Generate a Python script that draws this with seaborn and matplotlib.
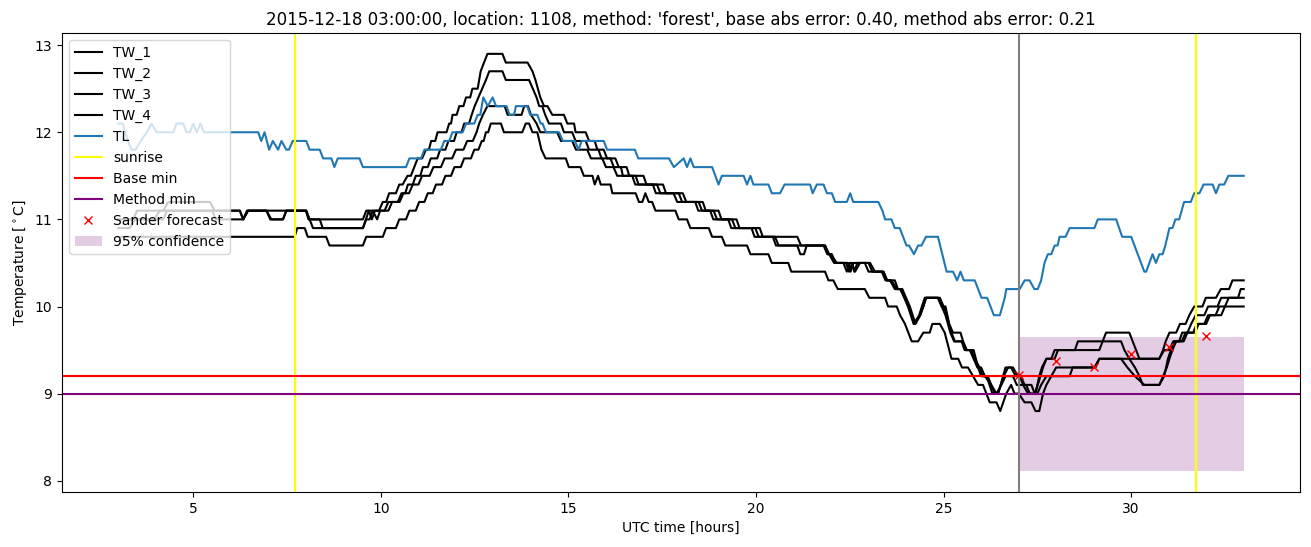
import matplotlib
matplotlib.use("Agg")
import matplotlib.pyplot as plt
import seaborn as sns
import pandas as pd

# ---------------- data (time [h], temperature [C]) vertices ----------------
TW_1 = [(3.00,10.9),(3.30,10.9),(3.45,11.0),(3.95,11.0),(4.11,11.1),(4.20,11.1),(4.33,11.2),(5.44,11.2),(5.57,11.1),(6.24,11.1),(6.33,11.0),(6.46,11.1),(8.01,11.1),(8.09,11.0),(9.52,11.0),(9.61,11.1),(9.95,11.1),(10.05,11.2),(10.14,11.2),(10.22,11.3),(10.40,11.3),(10.49,11.4),(10.58,11.4),(10.71,11.5),(10.80,11.5),(10.89,11.6),(10.98,11.7),(11.10,11.7),(11.20,11.8),(11.28,11.8),(11.34,11.9),(11.45,11.9),(11.51,12.0),(11.75,12.0),(11.82,12.1),(11.87,12.1),(11.91,12.2),(12.02,12.2),(12.09,12.3),(12.20,12.3),(12.27,12.4),(12.38,12.4),(12.44,12.5),(12.58,12.5),(12.66,12.7),(12.75,12.8),(12.84,12.9),(13.24,12.9),(13.33,12.8),(13.91,12.8),(14.04,12.7),(14.12,12.6),(14.25,12.4),(14.35,12.3),(14.44,12.3),(14.57,12.2),(14.88,12.2),(14.97,12.1),(15.15,12.1),(15.19,12.0),(15.46,12.0),(15.55,11.9),(15.70,11.9),(15.77,11.8),(15.94,11.8),(16.03,11.7),(16.25,11.7),(16.34,11.6),(16.40,11.6),(16.45,11.5),(16.79,11.5),(16.87,11.4),(17.36,11.4),(17.45,11.3),(17.94,11.3),(18.03,11.2),(18.47,11.2),(18.56,11.1),(18.87,11.1),(18.96,11.0),(19.36,11.0),(19.45,10.9),(19.98,10.9),(20.07,10.8),(20.51,10.8),(20.60,10.7),(21.84,10.7),(21.93,10.6),(22.02,10.6),(22.11,10.5),(22.33,10.5),(22.42,10.4),(22.50,10.5),(22.55,10.5),(22.64,10.4),(22.77,10.5),(23.04,10.5),(23.17,10.4),(23.39,10.4),(23.48,10.3),(23.61,10.3),(23.75,10.2),(23.84,10.2),(23.97,10.1),(24.06,10.0),(24.23,9.8),(24.37,9.9),(24.46,10.0),(24.54,10.1),(24.90,10.1),(25.00,10.0),(25.08,9.9),(25.21,9.7),(25.30,9.6),(25.48,9.6),(25.56,9.5),(25.74,9.5),(25.83,9.4),(25.96,9.3),(26.05,9.2),(26.18,9.2),(26.27,9.1),(26.36,9.0),(26.45,9.0),(26.60,9.2),(26.72,9.3),(26.85,9.3),(26.98,9.2),(27.06,9.2),(27.16,9.1),(27.34,9.1),(27.43,9.0),(27.51,9.1),(27.65,9.3),(27.74,9.4),(27.87,9.4),(27.96,9.5),(28.50,9.5),(28.58,9.6),(29.24,9.6),(29.33,9.7),(29.95,9.7),(30.04,9.6),(30.13,9.5),(30.22,9.4),(30.75,9.4),(30.85,9.5),(30.92,9.6),(31.02,9.7),(31.20,9.7),(31.30,9.8),(31.45,9.8),(31.55,9.9),(31.68,10.0),(31.90,10.0),(31.99,10.1),(32.26,10.1),(32.39,10.2),(32.61,10.2),(32.70,10.3),(33.00,10.3)]

TW_2 = [(3.00,11.0),(4.20,11.0),(4.30,11.1),(5.50,11.1),(5.60,11.0),(6.33,11.0),(6.43,11.1),(6.95,11.1),(7.05,11.0),(7.39,11.0),(7.48,11.1),(8.00,11.1),(8.07,11.0),(8.37,11.0),(8.45,10.9),(9.52,10.9),(9.60,11.0),(9.68,11.1),(9.76,11.0),(9.84,11.1),(10.10,11.1),(10.20,11.2),(10.45,11.2),(10.55,11.3),(10.65,11.3),(10.72,11.4),(10.85,11.4),(10.93,11.5),(11.05,11.5),(11.12,11.6),(11.25,11.6),(11.33,11.7),(11.50,11.7),(11.58,11.8),(11.72,11.8),(11.80,11.9),(11.95,11.9),(12.02,12.0),(12.15,12.0),(12.22,12.1),(12.35,12.1),(12.42,12.2),(12.50,12.3),(12.60,12.4),(12.70,12.5),(12.80,12.6),(12.89,12.7),(13.24,12.7),(13.33,12.6),(13.95,12.6),(14.05,12.5),(14.15,12.4),(14.22,12.3),(14.30,12.3),(14.38,12.2),(14.48,12.1),(14.80,12.1),(14.88,12.0),(15.10,12.0),(15.19,11.9),(15.46,11.9),(15.55,11.8),(15.80,11.8),(15.88,11.7),(16.12,11.7),(16.21,11.6),(16.55,11.6),(16.62,11.5),(17.00,11.5),(17.08,11.4),(17.52,11.4),(17.60,11.3),(18.05,11.3),(18.14,11.2),(18.58,11.2),(18.66,11.1),(19.00,11.1),(19.08,11.0),(19.48,11.0),(19.56,10.9),(20.10,10.9),(20.18,10.8),(21.10,10.8),(21.20,10.7),(21.84,10.7),(21.95,10.6),(22.08,10.5),(22.40,10.5),(22.48,10.4),(22.56,10.5),(22.62,10.4),(22.70,10.5),(23.00,10.5),(23.10,10.4),(23.40,10.4),(23.50,10.3),(23.70,10.3),(23.78,10.2),(23.90,10.2),(24.00,10.1),(24.10,10.0),(24.25,9.8),(24.38,9.9),(24.46,10.0),(24.52,10.1),(24.85,10.1),(24.95,10.0),(25.05,10.0),(25.15,9.8),(25.25,9.7),(25.45,9.7),(25.52,9.6),(25.62,9.5),(25.80,9.5),(25.92,9.3),(26.00,9.2),(26.15,9.2),(26.30,9.0),(26.45,9.0),(26.52,9.1),(26.65,9.3),(26.80,9.3),(26.92,9.2),(27.03,9.2),(27.12,9.1),(27.25,9.0),(27.45,9.0),(27.55,9.2),(27.62,9.3),(27.74,9.4),(27.96,9.4),(28.05,9.5),(29.15,9.5),(29.24,9.6),(29.73,9.6),(29.82,9.5),(29.95,9.4),(30.10,9.3),(30.22,9.2),(30.31,9.1),(30.75,9.1),(30.88,9.2),(30.98,9.4),(31.06,9.5),(31.15,9.6),(31.28,9.6),(31.36,9.7),(31.50,9.7),(31.60,9.8),(31.72,9.9),(31.95,9.9),(32.05,10.0),(32.30,10.0),(32.40,10.1),(32.85,10.1),(32.92,10.2),(33.00,10.2)]

TW_3 = [(3.00,11.0),(3.40,11.0),(3.50,11.1),(6.24,11.1),(6.33,11.0),(6.46,11.1),(6.95,11.1),(7.08,11.0),(7.39,11.0),(7.48,11.1),(8.01,11.1),(8.19,10.9),(9.52,10.9),(9.61,11.0),(9.70,11.0),(9.78,11.1),(9.90,11.0),(9.98,11.1),(10.20,11.1),(10.30,11.2),(10.50,11.2),(10.60,11.3),(10.75,11.3),(10.85,11.4),(11.00,11.4),(11.10,11.5),(11.30,11.5),(11.40,11.6),(11.60,11.6),(11.70,11.7),(11.90,11.7),(12.00,11.8),(12.20,11.8),(12.30,11.9),(12.45,11.9),(12.55,12.0),(12.62,12.1),(12.72,12.2),(12.84,12.3),(13.30,12.3),(13.38,12.2),(13.75,12.2),(13.82,12.3),(13.92,12.3),(14.00,12.2),(14.15,12.1),(14.25,12.0),(14.70,12.0),(14.80,11.9),(15.10,11.9),(15.20,11.8),(15.50,11.8),(15.60,11.7),(15.90,11.7),(16.00,11.6),(16.20,11.6),(16.30,11.5),(16.70,11.5),(16.78,11.4),(17.25,11.4),(17.33,11.3),(17.80,11.3),(17.90,11.2),(18.38,11.2),(18.46,11.1),(18.78,11.1),(18.86,11.0),(19.26,11.0),(19.34,10.9),(19.88,10.9),(19.96,10.8),(20.45,10.8),(20.53,10.7),(21.10,10.7),(21.18,10.6),(21.28,10.6),(21.35,10.7),(21.80,10.7),(21.90,10.6),(22.00,10.6),(22.15,10.5),(22.45,10.5),(22.52,10.4),(22.60,10.5),(22.90,10.5),(23.00,10.4),(23.35,10.4),(23.45,10.3),(23.57,10.3),(23.70,10.2),(23.85,10.2),(23.95,10.1),(24.05,10.0),(24.20,9.8),(24.35,9.9),(24.42,10.0),(24.50,10.1),(24.85,10.1),(24.95,10.0),(25.05,9.9),(25.18,9.7),(25.28,9.6),(25.50,9.6),(25.58,9.5),(25.70,9.5),(25.80,9.4),(25.90,9.3),(26.00,9.3),(26.10,9.2),(26.27,9.1),(26.41,9.0),(26.54,9.1),(26.65,9.2),(26.85,9.2),(26.95,9.1),(27.20,9.1),(27.30,9.0),(27.50,9.0),(27.60,9.1),(27.74,9.2),(28.36,9.2),(28.44,9.3),(29.02,9.3),(29.15,9.4),(29.73,9.4),(29.90,9.3),(30.10,9.2),(30.35,9.1),(30.75,9.1),(30.85,9.2),(30.95,9.3),(31.02,9.4),(31.10,9.5),(31.20,9.6),(31.35,9.6),(31.45,9.7),(31.65,9.7),(31.75,9.8),(31.95,9.8),(32.05,9.9),(32.25,9.9),(32.35,10.0),(32.50,10.0),(32.60,10.1),(33.00,10.1)]

TW_4 = [(3.00,10.8),(7.70,10.8),(7.77,10.9),(7.97,10.9),(8.05,10.8),(8.54,10.8),(8.63,10.7),(9.52,10.7),(9.61,10.8),(10.05,10.8),(10.14,10.9),(10.40,10.9),(10.49,11.0),(10.67,11.0),(10.76,11.1),(10.93,11.1),(11.02,11.2),(11.16,11.2),(11.25,11.3),(11.38,11.3),(11.47,11.4),(11.63,11.4),(11.72,11.5),(11.87,11.5),(11.96,11.6),(12.13,11.6),(12.22,11.7),(12.40,11.7),(12.49,11.8),(12.60,11.8),(12.69,11.9),(12.74,11.9),(12.80,12.0),(12.86,12.0),(12.93,12.1),(13.20,12.1),(13.28,12.0),(13.77,12.0),(13.86,12.1),(13.95,12.1),(14.04,12.0),(14.17,12.0),(14.28,11.8),(14.39,11.7),(14.93,11.7),(15.01,11.6),(15.32,11.6),(15.41,11.5),(15.64,11.5),(15.70,11.4),(15.79,11.5),(15.86,11.4),(16.12,11.4),(16.17,11.3),(16.79,11.3),(16.88,11.2),(16.97,11.2),(17.05,11.3),(17.14,11.2),(17.23,11.2),(17.32,11.1),(17.85,11.1),(17.94,11.0),(18.16,11.0),(18.25,10.9),(18.74,10.9),(18.83,10.8),(19.09,10.8),(19.18,10.7),(19.76,10.7),(19.85,10.6),(20.33,10.6),(20.42,10.5),(20.86,10.5),(20.94,10.4),(21.84,10.4),(21.93,10.3),(22.06,10.3),(22.18,10.2),(22.90,10.2),(23.02,10.1),(23.44,10.1),(23.52,10.0),(23.75,10.0),(23.84,9.9),(23.97,9.8),(24.15,9.6),(24.32,9.6),(24.46,9.7),(24.63,9.7),(24.70,9.8),(24.90,9.8),(25.03,9.7),(25.21,9.4),(25.39,9.4),(25.49,9.3),(25.65,9.3),(25.92,9.1),(26.05,9.1),(26.23,8.9),(26.41,8.9),(26.51,8.8),(26.67,9.0),(26.80,9.1),(26.89,9.0),(27.00,9.0),(27.16,8.9),(27.34,8.9),(27.45,8.8),(27.55,8.8),(27.65,9.0),(27.74,9.1),(27.87,9.2),(28.00,9.3),(29.05,9.3),(29.15,9.4),(30.75,9.4),(30.88,9.5),(31.02,9.5),(31.12,9.6),(31.40,9.6),(31.50,9.7),(31.70,9.7),(31.80,9.8),(32.00,9.8),(32.10,9.9),(32.40,9.9),(32.50,10.0),(33.00,10.0)]

TL = [(3.00,12.1),(3.12,12.1),(3.25,11.9),(3.36,11.8),(3.46,11.8),(3.60,11.9),(3.76,12.0),(3.89,12.1),(4.02,12.0),(4.47,12.0),(4.55,12.1),(4.73,12.1),(4.82,12.0),(4.91,12.0),(5.00,12.1),(5.09,12.0),(5.19,12.1),(5.28,12.0),(6.73,12.0),(6.81,11.9),(6.90,12.0),(7.02,11.8),(7.12,11.9),(7.26,11.8),(7.35,11.9),(7.48,11.8),(7.55,11.8),(7.65,11.9),(8.01,11.9),(8.10,11.8),(8.37,11.8),(8.46,11.7),(8.68,11.7),(8.76,11.6),(8.85,11.7),(9.43,11.7),(9.52,11.6),(10.67,11.6),(10.76,11.7),(11.07,11.7),(11.16,11.8),(11.60,11.8),(11.69,11.9),(11.82,11.9),(11.91,12.0),(12.18,12.0),(12.27,12.1),(12.49,12.1),(12.58,12.2),(12.65,12.2),(12.73,12.4),(12.85,12.3),(12.98,12.4),(13.07,12.3),(13.35,12.3),(13.43,12.2),(13.55,12.2),(13.60,12.3),(13.90,12.3),(13.98,12.2),(14.17,12.2),(14.26,12.1),(14.31,12.1),(14.40,12.0),(14.75,12.0),(14.85,11.9),(15.17,11.9),(15.27,11.8),(15.35,11.9),(15.94,11.9),(16.03,11.8),(16.77,11.8),(16.86,11.7),(17.68,11.7),(17.81,11.6),(18.07,11.7),(18.16,11.6),(18.25,11.7),(18.34,11.6),(18.83,11.6),(19.00,11.4),(19.09,11.5),(19.67,11.5),(19.76,11.4),(19.85,11.5),(19.93,11.4),(20.33,11.4),(20.42,11.3),(20.64,11.3),(20.76,11.4),(21.44,11.4),(21.51,11.3),(21.62,11.4),(21.80,11.4),(21.89,11.3),(22.02,11.3),(22.11,11.2),(22.42,11.2),(22.51,11.3),(22.59,11.2),(23.26,11.2),(23.37,11.1),(23.44,11.0),(23.61,11.0),(23.70,10.9),(23.83,10.9),(24.01,10.7),(24.08,10.7),(24.21,10.6),(24.32,10.7),(24.41,10.7),(24.53,10.8),(24.85,10.8),(25.08,10.4),(25.25,10.4),(25.36,10.3),(25.45,10.4),(25.54,10.3),(25.83,10.3),(26.01,10.1),(26.16,10.1),(26.34,9.9),(26.50,9.9),(26.63,10.1),(26.67,10.2),(27.03,10.2),(27.16,10.3),(27.29,10.3),(27.42,10.2),(27.51,10.2),(27.60,10.3),(27.69,10.5),(27.78,10.6),(27.87,10.6),(27.96,10.7),(28.04,10.7),(28.09,10.8),(28.25,10.8),(28.36,10.9),(29.02,10.9),(29.11,11.0),(29.60,11.0),(29.76,10.8),(30.00,10.8),(30.35,10.4),(30.40,10.4),(30.57,10.6),(30.66,10.5),(30.75,10.6),(30.84,10.6),(30.91,10.7),(31.02,10.9),(31.10,10.9),(31.18,11.0),(31.28,11.0),(31.41,11.2),(31.59,11.2),(31.68,11.3),(31.82,11.3),(31.93,11.4),(32.17,11.4),(32.26,11.3),(32.35,11.4),(32.48,11.4),(32.59,11.5),(33.00,11.5)]

SUNRISE = [7.70, 31.72]
ISSUE_TIME = 27.0
BASE_MIN = 9.2
METHOD_MIN = 9.0
SANDER_X = [27, 28, 29, 30, 31, 32]
SANDER_Y = [9.21, 9.37, 9.30, 9.46, 9.54, 9.66]
CONF_X = [27.0, 33.0]
CONF_LOW = 8.11
CONF_HIGH = 9.65

TITLE = "2015-12-18 03:00:00, location: 1108, method: 'forest', base abs error: 0.40, method abs error: 0.21"

# ---------------- plot ----------------
fig = plt.figure(figsize=(13.11, 5.47), dpi=100)
ax = fig.add_axes([0.0473, 0.1005, 0.9443, 0.8392])

for name, pts in [("TW_1", TW_1), ("TW_2", TW_2), ("TW_3", TW_3), ("TW_4", TW_4)]:
    df = pd.DataFrame(pts, columns=["t", "v"])
    sns.lineplot(data=df, x="t", y="v", color="black", label=name, ax=ax,
                 estimator=None, sort=False, linewidth=1.5)

df_tl = pd.DataFrame(TL, columns=["t", "v"])
sns.lineplot(data=df_tl, x="t", y="v", color="#1f77b4", label="TL", ax=ax,
             estimator=None, sort=False, linewidth=1.5)

ax.axvline(SUNRISE[0], color="yellow", label="sunrise")
ax.axvline(SUNRISE[1], color="yellow")
ax.axhline(BASE_MIN, color="red", label="Base min")
ax.axhline(METHOD_MIN, color="purple", label="Method min")
ax.axvline(ISSUE_TIME, color="grey")
ax.plot(SANDER_X, SANDER_Y, "rx", label="Sander forecast")
ax.fill_between(CONF_X, CONF_LOW, CONF_HIGH, color="purple", alpha=0.2,
                linewidth=0, label="95% confidence")

ax.set_title(TITLE)
ax.set_xlabel("UTC time [hours]")
ax.set_ylabel(r"Temperature [$^\circ$C]")
ax.legend(loc="upper left")

fig.savefig("out.png", dpi=100)
